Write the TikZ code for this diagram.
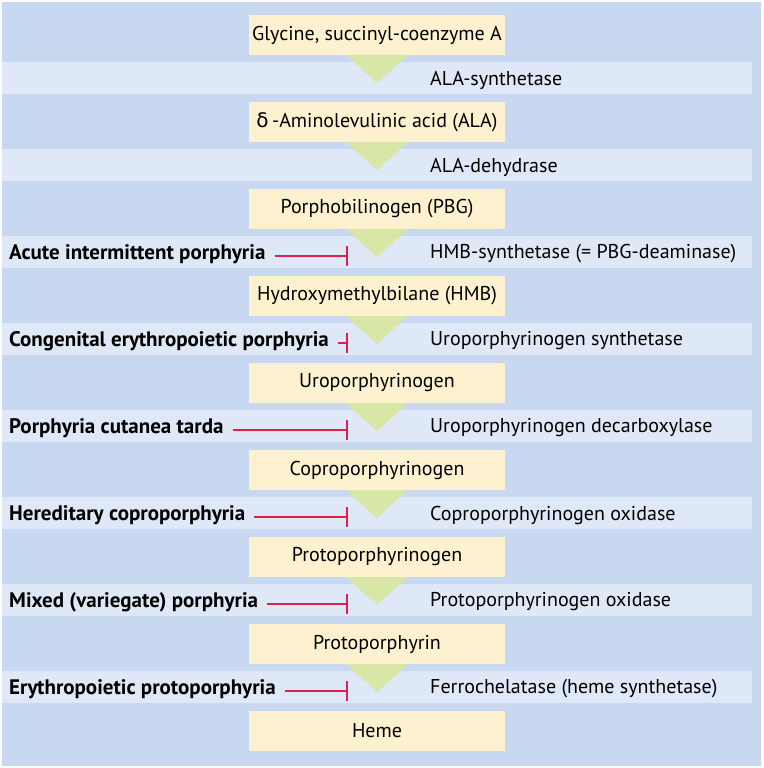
\documentclass[tikz,border=0pt]{standalone}
\usepackage{fontspec}
\setmainfont{PT Sans}
\newfontfamily\greekfont{DejaVu Sans}
\definecolor{bgblue}{HTML}{C7D8F0}
\definecolor{bandblue}{HTML}{DEE8F6}
\definecolor{boxyellow}{HTML}{FDF1CF}
\definecolor{triggreen}{HTML}{D8E6A6}
\definecolor{inhred}{HTML}{E0204A}
\tikzset{
  compound/.style={fill=boxyellow, minimum width=256pt, minimum height=40pt,
    inner sep=0pt, font=\fontsize{20}{24}\selectfont},
  enzyme/.style={anchor=west, inner sep=0pt, font=\fontsize{20}{24}\selectfont},
  disease/.style={anchor=west, inner sep=0pt, font=\fontsize{21}{24}\selectfont\bfseries},
  inhibit/.style={draw=inhred, line width=1.6pt, -{Bar[width=20pt]}},
}
\usetikzlibrary{arrows.meta}
\begin{document}
\begin{tikzpicture}[x=1pt, y=-1pt]
  \useasboundingbox (0,0) rectangle (763,768);
  \fill[white] (0,0) rectangle (763,768);
  \fill[bgblue] (2,2) rectangle (761,766);
  % bands of the enzymatic steps
  \foreach \i in {0,...,7}
    \fill[bandblue] (2,{78+87*\i-16}) rectangle (752,{78+87*\i+16});
  % compounds
  \foreach \name/\txt [count=\i from 0] in {
      gly/{Glycine, succinyl-coenzyme A},
      ala/{{\greekfont δ}\,-Aminolevulinic acid (ALA)},
      pbg/{Porphobilinogen (PBG)},
      hmb/{Hydroxymethylbilane (HMB)},
      uro/{Uroporphyrinogen},
      copro/{Coproporphyrinogen},
      proto/{Protoporphyrinogen},
      pp/{Protoporphyrin},
      heme/{Heme}}
    \node[compound] (\name) at (377,{35+87*\i}) {\txt};
  % arrow heads between compounds
  \foreach \i in {0,...,7}
    \fill[triggreen] (346,{55+87*\i}) -- (408,{55+87*\i}) -- (377,{83+87*\i}) -- cycle;
  % enzymes
  \foreach \txt [count=\i from 0] in {
      ALA-synthetase,
      ALA-dehydrase,
      {HMB-synthetase (= PBG-deaminase)},
      Uroporphyrinogen synthetase,
      Uroporphyrinogen decarboxylase,
      Coproporphyrinogen oxidase,
      Protoporphyrinogen oxidase,
      {Ferrochelatase (heme synthetase)}}
    \node[enzyme] (enz\i) at (430,{80+87*\i}) {\txt};
  % porphyrias
  \foreach \txt [count=\i from 2] in {
      Acute intermittent porphyria,
      Congenital erythropoietic porphyria,
      Porphyria cutanea tarda,
      Hereditary coproporphyria,
      {Mixed (variegate) porphyria},
      Erythropoietic protoporphyria}
  {
    \node[disease] (dis\i) at (9,{80+87*\i}) {\txt};
    \coordinate (blk\i) at (348,{82+87*\i});
    \draw[inhibit] (dis\i.east |- blk\i) ++(9,0) -- (blk\i);
  }
\end{tikzpicture}
\end{document}
